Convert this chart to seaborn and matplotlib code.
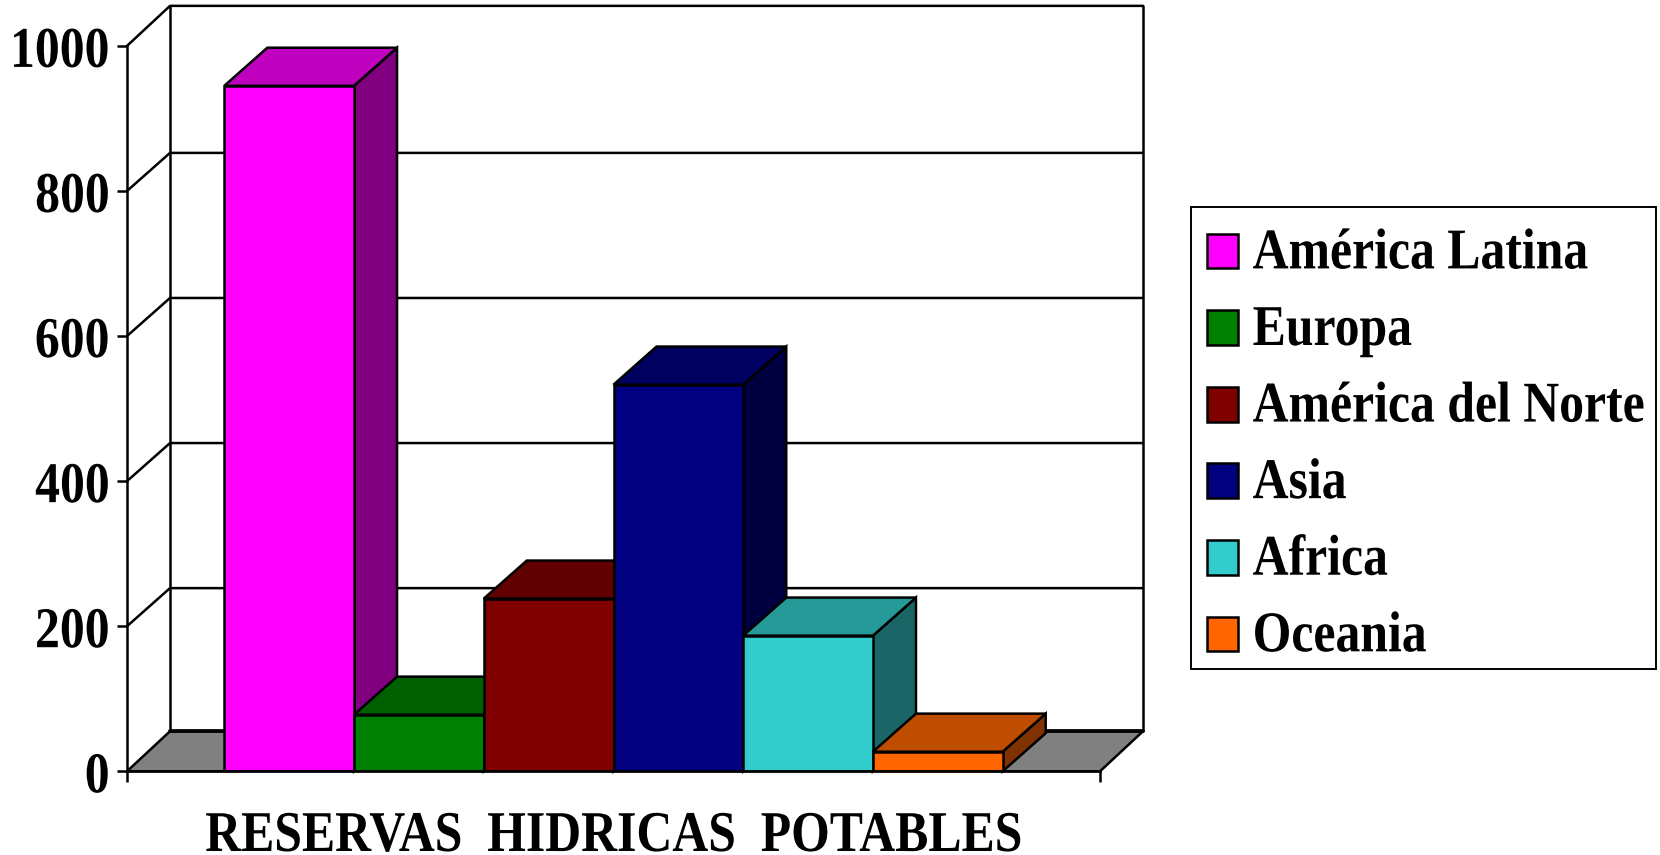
import pandas as pd
import matplotlib.pyplot as plt
import matplotlib.colors as mcolors
import matplotlib.patheffects as pe
from matplotlib.patches import Rectangle
from matplotlib.transforms import Affine2D
import seaborn as sns

regiones = ["América Latina", "Europa", "América del Norte", "Asia", "Africa", "Oceania"]
reservas = [945, 78, 238, 533, 187, 27]
colores = ["#FF00FF", "#008000", "#800000", "#000080", "#33CCCC", "#FF6600"]
marcas_y = [0, 200, 400, 600, 800, 1000]
titulo_x = "RESERVAS  HIDRICAS  POTABLES"

# depth of the fake 3D box, in data units
prof_x = 0.0442
prof_y = 55.2
prof_barra = 52.5
lw = 1.8
tam = 35.8


# the original type is condensed: stretch the glyphs upward from the baseline
class Estirar(pe.AbstractPathEffect):
    def __init__(self, alto=1.16, bajar=0):
        super().__init__()
        self.alto = alto
        self.bajar = bajar

    def draw_path(self, renderer, gc, tpath, affine, rgbFace=None):
        t = Affine2D().scale(1, self.alto) + affine + Affine2D().translate(0, -self.bajar)
        renderer.draw_path(gc, tpath, t, rgbFace)


df = pd.DataFrame({"grupo": titulo_x, "region": regiones, "reservas": reservas})

sns.set_style("white")
plt.rcParams["font.family"] = ["Liberation Serif", "DejaVu Serif"]
plt.rcParams["font.weight"] = "bold"

fig = plt.figure(figsize=(16.6, 8.55), dpi=100)
ax = fig.add_axes([127 / 1660, 1 - 771.3 / 855, 973 / 1660, 725.4 / 855])

sns.barplot(
    data=df, x="grupo", y="reservas", hue="region", hue_order=regiones,
    palette=colores, saturation=1, width=0.8, gap=0,
    edgecolor="black", linewidth=lw, ax=ax
)

ax.set_xlim(-0.5, 0.5)
ax.set_ylim(0, 1000)
ax.patch.set_alpha(0)


def poly(xs, ys, color, z):
    ax.fill(xs, ys, facecolor=color, edgecolor="black", linewidth=lw,
            joinstyle="miter", clip_on=False, zorder=z)


# floor and back wall
poly([-0.5, 0.5, 0.5 + prof_x, -0.5 + prof_x], [0, 0, prof_y, prof_y], "#808080", 1)
ax.plot([-0.5 + prof_x, 0.5 + prof_x], [prof_y, prof_y], color="black", lw=lw * 1.5,
        clip_on=False, zorder=1.5)
for m in marcas_y[1:-1]:
    ax.plot([-0.5, -0.5 + prof_x, 0.5 + prof_x], [m, m + prof_barra, m + prof_barra],
            color="black", lw=lw, clip_on=False, zorder=1)
ax.plot([-0.5, -0.5 + prof_x, 0.5 + prof_x], [1000, 1000 + prof_y, 1000 + prof_y],
        color="black", lw=lw, clip_on=False, zorder=1)
ax.plot([-0.5 + prof_x, -0.5 + prof_x], [prof_y, 1000 + prof_y], color="black", lw=lw,
        clip_on=False, zorder=1)
ax.plot([0.5 + prof_x, 0.5 + prof_x], [prof_y, 1000 + prof_y], color="black", lw=lw,
        clip_on=False, zorder=1)

# side and top of every bar, painted left to right
barras = [c[0] for c in ax.containers]
barras = sorted(barras, key=lambda b: b.get_x())
for i, b in enumerate(barras):
    z = 3 + i * 0.1
    x0, x1, h = b.get_x(), b.get_x() + b.get_width(), b.get_height()
    rgb = mcolors.to_rgb(colores[i])
    arriba = tuple(c * 0.75 for c in rgb)
    lado = tuple(c * 0.5 for c in rgb)
    poly([x1, x1 + prof_x, x1 + prof_x, x1], [0, prof_barra, h + prof_barra, h], lado, z)
    poly([x0, x1, x1 + prof_x, x0 + prof_x], [h, h, h + prof_barra, h + prof_barra], arriba, z)
    b.set_zorder(z + 0.01)
    b.set_joinstyle("miter")

sns.despine(ax=ax, top=True, right=True)
for s in ["left", "bottom"]:
    ax.spines[s].set_color("black")
    ax.spines[s].set_linewidth(lw)
    ax.spines[s].set_zorder(5)

ax.set_yticks(marcas_y)
ax.set_xticks([-0.5, 0.5])
ax.set_xticklabels(["", ""])
ax.tick_params(axis="y", left=True, length=7.5, width=lw, color="black",
               labelsize=tam, pad=5, labelcolor="black")
ax.tick_params(axis="x", bottom=True, length=8, width=lw, color="black")
for t in ax.get_yticklabels():
    t.set_fontweight("bold")
    t.set_path_effects([Estirar(bajar=3.5)])
ax.set_xlabel("")
ax.set_ylabel("")
fig.text(614 / 1660, 1 - 842 / 855, titulo_x, fontsize=tam, fontweight="bold",
         ha="center", va="baseline", color="black", path_effects=[Estirar(bajar=9)])

# legend content sits lower in its box than matplotlib would pad it, so the frame is separate
leg = ax.legend(
    loc="upper left", bbox_to_anchor=(1191 / 1660, 1 - 217.5 / 855),
    bbox_transform=fig.transFigure, borderaxespad=0, frameon=False, fontsize=tam, title=None,
    handlelength=0.62, handleheight=0.70, handletextpad=0.30,
    labelspacing=0.615, borderpad=0.32
)
leg.set_zorder(10)
for p in leg.get_patches():
    p.set_edgecolor("black")
    p.set_linewidth(lw)
for t in leg.get_texts():
    t.set_color("black")
    t.set_fontweight("bold")
    t.set_path_effects([Estirar()])
fig.add_artist(Rectangle((1191 / 1660, 1 - 669 / 855), 465 / 1660, 461.5 / 855, fill=False,
                         edgecolor="black", linewidth=1.4, transform=fig.transFigure))

plt.savefig("out.png", dpi=100)
plt.close()
